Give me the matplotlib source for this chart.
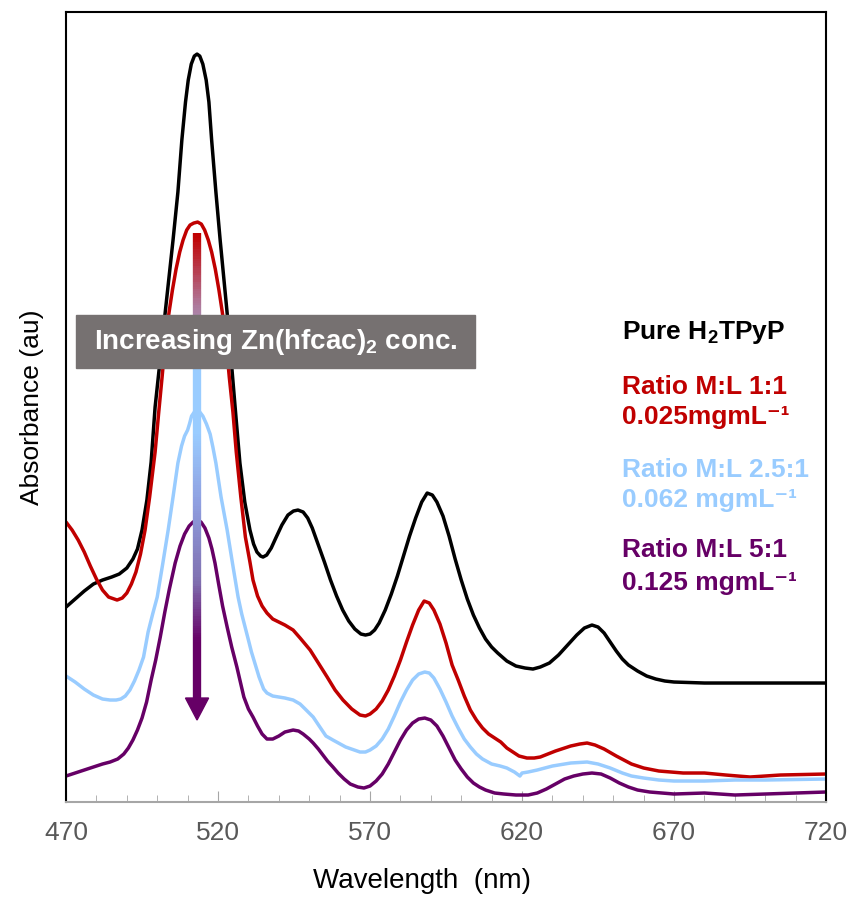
import numpy as np
import matplotlib.pyplot as plt
from matplotlib.collections import LineCollection
from matplotlib.colors import LinearSegmentedColormap
from matplotlib.patches import Polygon, Rectangle

plt.rcParams['font.family'] = ['Liberation Sans', 'DejaVu Sans']
plt.rcParams['mathtext.fontset'] = 'custom'
plt.rcParams['mathtext.rm'] = 'Liberation Sans'
plt.rcParams['mathtext.bf'] = 'Liberation Sans:bold'

# Pure H2TPyP
wl_pure = [470, 473, 476, 479, 482, 485, 487.5, 490, 492, 493.5, 495, 496.6, 498, 499.3, 500.6,
           502.6, 505.2, 506.8, 508.1, 509.3, 510.2, 511.2, 512.2, 513.1, 514.0, 515.0, 516.1,
           517.0, 517.9, 519.3, 520.7, 523, 524.6, 525.9, 527.2, 528.8, 530.5, 531.7, 532.8,
           534, 534.8, 536, 537.5, 539, 541, 543, 544.8, 546.3, 548, 549.5, 551, 553, 555, 557,
           559, 561, 563, 565, 567, 568.5, 570, 571.5, 573, 575, 577, 579, 581, 583, 585, 587,
           588.8, 590.5, 592, 594, 596, 598, 600, 602, 604, 606, 608, 610, 612, 615, 618, 621,
           623.6, 626, 629, 632, 635, 638, 640.5, 643, 645, 647, 649, 651, 653, 655, 658, 661,
           664, 667, 670, 680, 700, 720]
abs_pure = [195, 203, 211, 218, 222, 225, 228, 234, 243, 253, 272, 302, 340, 395, 432,
            489, 562, 610, 662, 700, 722, 738, 746, 748, 746, 738, 722,
            700, 662, 610, 562, 489, 432, 385, 339, 300, 272, 258, 250,
            246, 245, 247, 254, 264, 277, 287, 291, 292, 290, 284, 274, 257, 240, 222,
            206, 192, 181, 173, 168, 167, 168, 172, 179, 192, 208, 226, 246, 266, 284, 300,
            309, 307, 300, 286, 266, 243, 222, 203, 187, 174, 163, 155, 149, 141, 136, 134,
            133, 135, 139, 147, 157, 167, 174, 177, 175, 169, 160, 151, 143, 137, 131, 126,
            123, 121, 120, 119, 119, 119]

# Ratio M:L 1:1
wl_r1 = [470, 472, 474, 476, 478, 480, 482, 484, 486.8, 488.5, 490, 491.5, 493, 494.5, 496,
         497.5, 499.3, 500.5, 501.6, 502.8, 503.9, 505, 506.2, 507.4, 508.5, 509.7, 510.8, 512,
         513.3, 514.5, 515.6, 516.8, 517.9, 519.1, 520.3, 521.4, 522.5, 523.7, 524.9, 526,
         527.5, 529, 530.5, 531.5, 533, 534.5, 536.1, 538, 540, 542, 544.7, 547, 550.3, 553,
         555.9, 558.5, 561.1, 564, 566.7, 568.5, 570, 572, 574, 576, 578, 580, 582, 584, 586,
         587.8, 589.5, 591, 593, 595, 597, 599, 601, 603, 605, 607, 609, 611, 613, 615, 617,
         619, 621.6, 624, 626, 631, 636, 639, 641.4, 644, 647, 651, 656, 660, 665, 673, 680,
         687, 695, 705, 720]
abs_r1 = [280, 272, 262, 250, 236, 223, 212, 205, 202, 204, 209, 218, 230, 248, 272,
          305, 350, 390, 425, 465, 490, 512, 533, 550, 562, 572, 577, 579,
          580, 578, 572, 562, 550, 533, 512, 490, 465, 425, 390, 350,
          305, 265, 240, 222, 206, 196, 189, 183, 180, 177, 172, 164, 152, 139,
          125, 112, 102, 93, 87, 86, 88, 93, 101, 112, 126, 142, 160, 177, 192,
          201, 199, 192, 178, 159, 137, 122, 106, 92, 82, 74, 68, 64, 60, 54, 50,
          46, 44, 44, 45, 51, 56, 58, 59, 57, 53, 46, 38, 34, 31, 29, 29,
          27, 25, 27, 28]

# Ratio M:L 2.5:1
wl_r25 = [470, 473, 476, 479, 482, 484.5, 486.5, 488, 489.5, 491, 492.5, 494, 495.5, 497,
          498.5, 500, 501.8, 503.6, 505.2, 506.8, 508, 509, 510, 510.6, 511.3, 512.2, 513.1,
          514, 515, 516.2, 517.4, 518.3, 519.3, 521, 523, 524.8, 526.6, 527.8, 528.9, 530,
          531, 532.5, 533.5, 535, 536.1, 538, 540, 542, 544.7, 547, 549, 551.3, 553.5, 555.5,
          557.8, 562, 566.7, 568.5, 570, 572, 574, 576, 578, 580, 582, 584, 586, 588, 589.5,
          591, 593, 595, 597, 599, 601, 603, 605, 607, 610, 612.8, 615, 617.5, 619.3, 620,
          622, 625, 630, 636, 641.4, 645, 649, 653, 656, 660, 665, 670, 680, 690, 700, 720]
abs_r25 = [126, 120, 113, 107, 103, 102, 102, 103, 106, 112, 121, 132, 145, 170,
           188, 205, 238, 272, 305, 339, 356, 366, 372, 378, 386, 390, 391,
           390, 386, 378, 368, 355, 339, 305, 272, 238, 205, 188, 175, 162,
           150, 135, 125, 113, 109, 106, 105, 104, 102, 98, 92, 85, 75, 66,
           62, 55, 50, 50, 52, 56, 63, 73, 86, 100, 112, 122, 128, 130, 129,
           124, 113, 100, 86, 74, 63, 55, 48, 43, 38, 36, 34, 30, 26, 29,
           30, 32, 36, 39, 40, 38, 34, 29, 26, 24, 22, 21, 21, 22, 22, 23]

# Ratio M:L 5:1
wl_r5 = [470, 473, 476, 479, 482, 484.5, 487, 489, 490.5, 492, 493.5, 495, 496.5, 498, 499.5,
         501, 502.5, 504, 505.9, 507.5, 509, 510.5, 511.8, 513.1, 514.4, 515.7, 517, 518, 519,
         520.2, 521.5, 523, 524.5, 526.2, 527.5, 528.5, 530, 531.5, 533, 534.5, 536.1, 538,
         540, 542, 544.7, 546.5, 548, 550, 551.3, 553, 554.5, 556, 557.8, 559.5, 561.5, 563.5,
         566, 568, 570, 572, 574, 576, 578, 580, 582, 584, 586, 588, 590, 592, 594, 596, 598,
         600, 602, 604, 606, 608, 611, 614, 618, 622, 625, 628, 631, 634, 637, 640, 643, 646,
         649, 652, 655, 658, 662, 666, 670, 680, 690, 700, 720]
abs_r5 = [26, 29, 32, 35, 38, 40, 43, 48, 54, 62, 72, 84, 100, 122, 142,
          165, 190, 213, 239, 256, 268, 276, 280, 282, 280, 274, 264, 253, 239,
          218, 196, 175, 155, 135, 118, 105, 93, 85, 76, 68, 63, 63,
          66, 70, 72, 71, 68, 63, 59, 53, 47, 41, 35, 29, 23, 18,
          15, 14, 16, 21, 28, 38, 50, 62, 72, 79, 83, 84, 82, 76, 66, 54, 42,
          33, 25, 19, 15, 12, 9, 8, 7, 7, 9, 13, 18, 23, 26, 28, 29, 28,
          24, 19, 15, 12, 10, 9, 8, 9, 7, 8, 10]

series = [
    (wl_pure, abs_pure, 'black'),
    (wl_r1, abs_r1, '#C00000'),
    (wl_r25, abs_r25, '#99CCFF'),
    (wl_r5, abs_r5, '#660066'),
]

legend_lines = [
    ('Pure H$_\\mathbf{2}$TPyP', 'black'),
    ('Ratio M:L 1:1', '#C00000'),
    ('0.025mgmL\u207b\u00b9', '#C00000'),
    ('Ratio M:L 2.5:1', '#99CCFF'),
    ('0.062 mgmL\u207b\u00b9', '#99CCFF'),
    ('Ratio M:L 5:1', '#660066'),
    ('0.125 mgmL\u207b\u00b9', '#660066'),
]
legend_y = [470, 415, 385, 332, 302, 252, 219]

fig = plt.figure(figsize=(8.53, 9.09), dpi=100)
ax = fig.add_axes([0.0774, 0.1177, 0.891, 0.869])

for wl, a, c in series:
    ax.plot(wl, a, color=c, lw=2.5, solid_capstyle='round', solid_joinstyle='round', zorder=2)

# gradient arrow
arrow_x = 513.1
y_top, y_head, y_tip = 569, 104, 82
cmap = LinearSegmentedColormap.from_list('arr', [
    (0.0, '#660066'), (0.12, '#660066'), (0.25, '#8070B0'), (0.42, '#8F9FE0'),
    (0.57, '#99CCFF'), (0.72, '#99CCFF'), (0.86, '#B07090'), (1.0, '#C00000')])
ys = np.linspace(y_head, y_top, 200)
segs = [[(arrow_x, ys[i]), (arrow_x, ys[i + 1])] for i in range(len(ys) - 1)]
lc = LineCollection(segs, colors=cmap(np.linspace(0, 1, len(segs))), linewidths=6, zorder=3)
ax.add_collection(lc)
ax.add_patch(Polygon([(arrow_x - 3.8, y_head), (arrow_x + 3.8, y_head), (arrow_x, y_tip)],
                     closed=True, color='#660066', zorder=3))

# label box
ax.add_patch(Rectangle((473.3, 434), 131.2, 53, color='#767171', zorder=4))
ax.text(539, 460, 'Increasing Zn(hfcac)$_\\mathbf{2}$ conc.', color='white', fontsize=20,
        fontweight='bold', ha='center', va='center', zorder=5)

for (txt, c), y in zip(legend_lines, legend_y):
    ax.text(653, y, txt, color=c, fontsize=19, fontweight='bold', ha='left', va='center')

ax.set_xlim(470, 720)
ax.set_ylim(0, 790)
ax.set_xticks(np.arange(470, 721, 50))
ax.set_xticks(np.arange(470, 721, 10), minor=True)
ax.set_yticks([])
ax.tick_params(axis='x', which='major', direction='in', length=8, color='#A6A6A6',
               labelsize=19, labelcolor='#595959', pad=14)
ax.tick_params(axis='x', which='minor', direction='in', length=5, color='#A6A6A6')
for s in ['left', 'top', 'right']:
    ax.spines[s].set_color('black')
    ax.spines[s].set_linewidth(1.5)
ax.spines['bottom'].set_color('#A6A6A6')
ax.spines['bottom'].set_linewidth(1.5)

ax.set_xlabel('Wavelength  (nm)', fontsize=20, labelpad=18)
ax.xaxis.set_label_coords(0.468, -0.083)
ax.set_ylabel('Absorbance (au)', fontsize=19, labelpad=16)

plt.savefig('out.png', dpi=100)
